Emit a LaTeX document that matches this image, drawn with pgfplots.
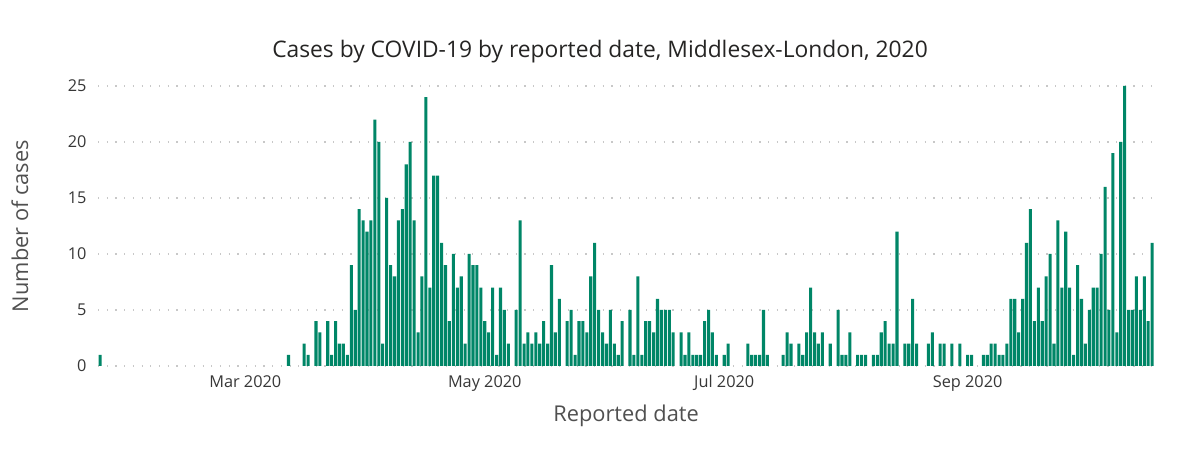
\documentclass[border=0pt]{standalone}
\usepackage{pgfplots}
\pgfplotsset{compat=1.18}
\usepackage{fontspec}
\setmainfont{Open Sans}
\definecolor{barc}{RGB}{0,134,103}
\definecolor{tickc}{RGB}{55,55,55}
\definecolor{labc}{RGB}{80,80,80}
\definecolor{titlec}{RGB}{37,36,35}
\definecolor{gridc}{RGB}{200,200,200}
\begin{document}
\begin{tikzpicture}[x=1pt,y=1pt]
\path[use as bounding box] (0,0) rectangle (1200,455);
\begin{axis}[
  at={(98.1pt,89pt)}, anchor=south west,
  scale only axis, width=1056pt, height=285.6pt,
  xmin=22.5, xmax=291.5, ymin=0, ymax=25.5,
  ybar, bar width=0.78, bar shift=0pt,
  axis line style={draw=none},
  tick style={draw=none}, major tick length=0pt,
  ytick={0,5,10,15,20,25},
  xtick={60,121,182,244},
  xticklabels={Mar 2020, May 2020, Jul 2020, Sep 2020},
  ymajorgrids,
  grid style={gridc, line width=1.2pt, dash pattern=on 1.2pt off 7.5pt},
  /pgf/number format/assume math mode=true,
  tick label style={font=\fontsize{16.3}{19}\selectfont, text=tickc},
  yticklabel style={anchor=east, xshift=-8pt},
  xticklabel style={anchor=north, yshift=-6pt},
  xlabel={Reported date},
  ylabel={Number of cases},
  label style={font=\fontsize{21.8}{26}\selectfont, text=labc},
  xlabel style={at={(axis description cs:0.5,-0.175)}, anchor=center},
  ylabel style={at={(axis description cs:-0.074,0.49)}, anchor=center},
  title={Cases by COVID-19 by reported date, Middlesex-London, 2020},
  title style={at={(axis description cs:0.4753,1.058)}, anchor=base, font=\fontsize{22.8}{27}\selectfont, text=titlec},
]
\addplot[fill=barc, draw=none] coordinates {
(23,1)
(71,1)(75,2)(76,1)(78,4)(79,3)(81,4)(82,1)(83,4)(84,2)(85,2)(86,1)(87,9)(88,5)(89,14)(90,13)
(91,12)(92,13)(93,22)(94,20)(95,2)(96,15)(97,9)(98,8)(99,13)(100,14)(101,18)(102,20)(103,13)
(104,3)(105,8)(106,24)(107,7)(108,17)(109,17)(110,11)(111,9)(112,4)(113,10)(114,7)(115,8)
(116,2)(117,10)(118,9)(119,9)(120,7)(121,4)(122,3)(123,7)(124,1)(125,7)(126,5)(127,2)
(129,5)(130,13)(131,2)(132,3)(133,2)(134,3)(135,2)(136,4)(137,2)(138,9)(139,3)(140,6)
(142,4)(143,5)(144,1)(145,4)(146,4)(147,3)(148,8)(149,11)(150,5)(151,3)(152,2)(153,5)
(154,2)(155,1)(156,4)(158,5)(159,1)(160,8)(161,1)(162,4)(163,4)(164,3)(165,6)(166,5)
(167,5)(168,5)(169,3)(171,3)(172,1)(173,3)(174,1)(175,1)(176,1)(177,4)(178,5)(179,3)
(180,1)(182,1)(183,2)(188,2)(189,1)(190,1)(191,1)(192,5)(193,1)(197,1)(198,3)(199,2)
(201,2)(202,1)(203,3)(204,7)(205,3)(206,2)(207,3)(209,2)(211,5)(212,1)(213,1)(214,3)
(216,1)(217,1)(218,1)(220,1)(221,1)(222,3)(223,4)(224,2)(225,2)(226,12)(228,2)(229,2)
(230,6)(231,2)(234,2)(235,3)(237,2)(238,2)(240,2)(242,2)(244,1)(245,1)(248,1)(249,1)
(250,2)(251,2)(252,1)(253,1)(254,2)(255,6)(256,6)(257,3)(258,6)(259,11)(260,14)(261,4)
(262,7)(263,4)(264,8)(265,10)(266,2)(267,13)(268,7)(269,12)(270,7)(271,1)(272,9)(273,6)
(274,2)(275,5)(276,7)(277,7)(278,10)(279,16)(280,5)(281,19)(282,3)(283,20)(284,25)(285,5)
(286,5)(287,8)(288,5)(289,8)(290,4)(291,11)
};
\end{axis}
\end{tikzpicture}
\end{document}
